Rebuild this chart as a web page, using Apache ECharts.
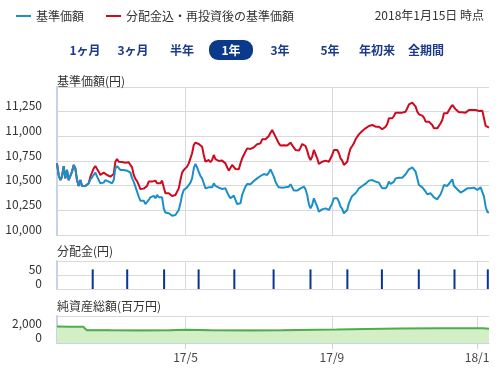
<!DOCTYPE html>
<html><head><meta charset="utf-8">
<script src="https://cdn.jsdelivr.net/npm/echarts@6/dist/echarts.min.js"></script>
<style>html,body{margin:0;padding:0;background:#fff}#c{width:502px;height:368px}</style>
</head><body><div id="c"></div>
<script>
// ---- data ----
const periodStart = '2017-01-13';
const periodEnd = '2018-01-11';
const asOfText = '2018年1月15日 時点';
const seriesNames = ['基準価額', '分配金込・再投資後の基準価額'];
// NAV samples, evenly spaced across the period
const navBase = [
10726,10608,10557,10591,10699,10574,10659,10557,10564,10642,
10710,10676,10557,10497,10557,10497,10517,10497,10497,10524,
10564,10585,10608,10632,10618,10557,10524,10541,10531,10557,
10557,10541,10551,10524,10557,10676,10699,10686,10659,10642,
10659,10652,10652,10632,10632,10574,10541,10490,10439,10389,
10348,10338,10348,10314,10294,10355,10382,10382,10396,10372,
10406,10382,10362,10382,10270,10227,10220,10220,10213,10196,
10193,10203,10213,10254,10321,10406,10456,10463,10483,10497,
10531,10574,10676,10720,10686,10639,10598,10574,10524,10473,
10456,10483,10473,10483,10524,10497,10483,10480,10483,10466,
10463,10473,10433,10399,10372,10389,10399,10355,10314,10297,
10321,10406,10450,10490,10517,10517,10514,10531,10547,10557,
10574,10591,10598,10615,10618,10601,10608,10632,10666,10659,
10591,10541,10507,10483,10483,10480,10490,10483,10473,10490,
10514,10497,10450,10439,10450,10446,10473,10490,10490,10463,
10406,10314,10270,10304,10372,10372,10287,10237,10244,10260,
10264,10270,10281,10254,10247,10321,10372,10372,10372,10338,
10287,10264,10220,10203,10254,10321,10362,10396,10413,10423,
10446,10473,10483,10497,10514,10520,10531,10551,10557,10557,
10551,10541,10551,10531,10500,10473,10463,10473,10497,10541,
10517,10514,10541,10574,10585,10581,10585,10581,10598,10615,
10642,10666,10676,10686,10683,10642,10574,10507,10490,10483,
10463,10439,10413,10416,10423,10406,10382,10362,10362,10389,
10413,10456,10507,10497,10497,10517,10541,10564,10497,10483,
10463,10450,10430,10430,10450,10463,10473,10473,10473,10473,
10480,10473,10456,10463,10483,10473,10389,10287,10233,10227
];
const navReinvest = [
10726,10608,10557,10591,10699,10574,10659,10557,10564,10642,
10710,10676,10557,10497,10557,10497,10517,10497,10497,10524,
10591,10632,10676,10699,10699,10642,10608,10615,10632,10652,
10608,10591,10591,10574,10618,10743,10770,10743,10726,10740,
10726,10733,10720,10737,10710,10686,10608,10568,10547,10507,
10466,10456,10470,10463,10497,10541,10524,10541,10524,10551,
10524,10541,10524,10551,10483,10423,10423,10423,10416,10396,
10396,10406,10416,10473,10557,10632,10659,10666,10693,10726,
10777,10828,10912,10936,10919,10922,10922,10895,10811,10743,
10733,10760,10737,10760,10811,10770,10754,10750,10754,10754,
10760,10726,10686,10652,10659,10710,10703,10669,10652,10666,
10726,10777,10811,10845,10878,10885,10872,10872,10889,10902,
10919,10922,10929,10970,10973,10970,10987,11003,11037,11064,
11047,10997,10963,10929,10906,10902,10909,10902,10906,10912,
10936,10929,10885,10862,10855,10855,10885,10922,10929,10902,
10855,10794,10760,10794,10862,10862,10777,10720,10726,10743,
10750,10754,10750,10743,10737,10811,10862,10862,10862,10828,
10777,10754,10710,10693,10743,10821,10878,10902,10929,10970,
10990,11020,11037,11054,11071,11081,11088,11105,11115,11115,
11108,11098,11105,11098,11081,11071,11081,11098,11125,11183,
11176,11183,11206,11240,11243,11240,11247,11240,11243,11250,
11284,11324,11335,11341,11335,11301,11250,11223,11226,11210,
11189,11149,11139,11149,11142,11115,11081,11064,11081,11098,
11132,11166,11233,11240,11233,11243,11294,11318,11307,11274,
11257,11243,11233,11243,11226,11240,11257,11267,11267,11267,
11274,11267,11250,11257,11277,11260,11183,11105,11091,11088
];
const divDates = ['2017-02-12','2017-03-13','2017-04-13','2017-05-12','2017-06-11','2017-07-14',
                  '2017-08-14','2017-09-14','2017-10-13','2017-11-13','2017-12-13','2018-01-10'];
const divValues = [70,70,70,70,70,70,70,70,70,70,70,70];
const assetDates = ['2017-01-13','2017-01-24','2017-02-04','2017-02-07','2017-02-27','2017-03-24',
                    '2017-04-18','2017-05-02','2017-05-22','2017-06-24','2017-07-22','2017-08-19',
                    '2017-09-05','2017-09-30','2017-10-28','2017-12-01','2018-01-06','2018-01-11'];
const assetValues = [2430,2420,2400,1900,1880,1870,1880,1950,1880,1860,1880,1970,1990,2080,2150,2180,2200,2100];
const xTickDates = ['2017-05-01','2017-09-01','2018-01-01'];
const navAxis = {min: 10000, max: 11500, step: 250};
const divAxis = {min: 0, max: 100, step: 50};
const assetAxis = {min: 0, max: 4000, step: 2000};
const periodButtons = ['1ヶ月','3ヶ月','半年','1年','3年','5年','年初来','全期間'];
const selectedPeriod = '1年';

// ---- chart ----
const FONT = '"Noto Sans CJK JP", "Noto Sans", sans-serif';
const ts = d => +echarts.time.parse(d);
const t0 = ts(periodStart);
const t1 = ts(periodEnd);
const n = navBase.length;
const sampleTime = i => t0 + (t1 - t0) * i / (n - 1);
const basePairs = navBase.map((v, i) => [sampleTime(i), v]);
const reinvPairs = navReinvest.map((v, i) => [sampleTime(i), v]);
const divPairs = divDates.map((d, i) => [ts(d), divValues[i]]);
const assetPairs = assetDates.map((d, i) => [ts(d), assetValues[i]]);
const tickTimes = xTickDates.map(ts);

const GRID_LINE = '#d9d9d9';
const AXIS_BLUE = '#c5d4e8';
const fmtMonth = v => { const d = new Date(v); return String(d.getFullYear()).slice(2) + '/' + (d.getMonth() + 1); };

function makeX(gridIndex, show) {
  return {
    type: 'value', gridIndex, min: t0, max: t1,
    axisLine: {show: show, lineStyle: {color: AXIS_BLUE, width: 1}},
    axisTick: {show: show, customValues: tickTimes, length: 6, lineStyle: {color: AXIS_BLUE}},
    axisLabel: {show: show, customValues: tickTimes, formatter: fmtMonth, color: '#444', fontSize: 12, margin: 8, fontFamily: FONT},
    splitLine: {show: true, lineStyle: {color: GRID_LINE, width: 1}}
  };
}
function makeY(gridIndex, ax) {
  return {
    type: 'value', gridIndex, min: ax.min, max: ax.max, interval: ax.step,
    axisLine: {show: true, lineStyle: {color: AXIS_BLUE, width: 2}},
    axisTick: {show: false},
    axisLabel: {
      formatter: v => v >= ax.max ? '' : echarts.format.addCommas(v),
      verticalAlign: 'bottom', margin: 15, color: '#333', fontSize: 12, fontFamily: FONT
    },
    splitLine: {show: true, lineStyle: {color: GRID_LINE, width: 1}}
  };
}

const btnCenters = [85, 133, 182, 231, 280, 330, 377, 426];
const buttons = [];
periodButtons.forEach((label, i) => {
  const sel = label === selectedPeriod;
  if (sel) buttons.push({type: 'rect', shape: {x: btnCenters[i] - 22, y: 40, width: 44, height: 20, r: 9}, style: {fill: '#0b3a8d'}});
  buttons.push({type: 'text', x: btnCenters[i], y: 50, style: {
    text: label, fill: sel ? '#fff' : '#1b3a8a', font: 'bold 12px ' + FONT, align: 'center', verticalAlign: 'middle'}});
});

const chart = echarts.init(document.getElementById('c'), null, {renderer: 'canvas'});
chart.setOption({
  animation: false,
  textStyle: {fontFamily: FONT},
  color: ['#1a8fc8', '#cf0a1e'],
  title: [
    {text: asOfText, right: 13, top: 4, textStyle: {fontSize: 12, fontWeight: 'normal', color: '#333', fontFamily: FONT}},
    {text: '基準価額(円)', left: 52, top: 70, textStyle: {fontSize: 12, fontWeight: 'normal', color: '#333', fontFamily: FONT}},
    {text: '分配金(円)', left: 52, top: 240, textStyle: {fontSize: 12, fontWeight: 'normal', color: '#333', fontFamily: FONT}},
    {text: '純資産総額(百万円)', left: 52, top: 295, textStyle: {fontSize: 12, fontWeight: 'normal', color: '#333', fontFamily: FONT}}
  ],
  legend: {
    data: seriesNames, left: 11, top: 5, icon: 'rect', itemWidth: 15, itemHeight: 2, itemGap: 22,
    textStyle: {fontSize: 12, color: '#333', fontFamily: FONT}
  },
  graphic: buttons,
  grid: [
    {left: 57, right: 13, top: 87, height: 148},
    {left: 57, right: 13, top: 261, height: 28},
    {left: 57, right: 13, top: 316, height: 27}
  ],
  xAxis: [makeX(0, false), makeX(1, false), makeX(2, true)],
  yAxis: [makeY(0, navAxis), makeY(1, divAxis), makeY(2, assetAxis)],
  series: [
    {name: seriesNames[1], type: 'line', xAxisIndex: 0, yAxisIndex: 0, data: reinvPairs, showSymbol: false, symbol: 'none',
     lineStyle: {width: 2, color: '#cf0a1e'}, itemStyle: {color: '#cf0a1e'}, z: 2},
    {name: seriesNames[0], type: 'line', xAxisIndex: 0, yAxisIndex: 0, data: basePairs, showSymbol: false, symbol: 'none',
     lineStyle: {width: 2, color: '#1a8fc8'}, itemStyle: {color: '#1a8fc8'}, z: 3},
    {name: '分配金', type: 'bar', xAxisIndex: 1, yAxisIndex: 1, data: divPairs, barWidth: 2, itemStyle: {color: '#0a3399'}},
    {name: '純資産総額', type: 'line', xAxisIndex: 2, yAxisIndex: 2, data: assetPairs, showSymbol: false, symbol: 'none',
     lineStyle: {width: 2, color: '#4cae4c'}, areaStyle: {color: '#d4efc6', opacity: 1}}
  ]
});
</script></body></html>
